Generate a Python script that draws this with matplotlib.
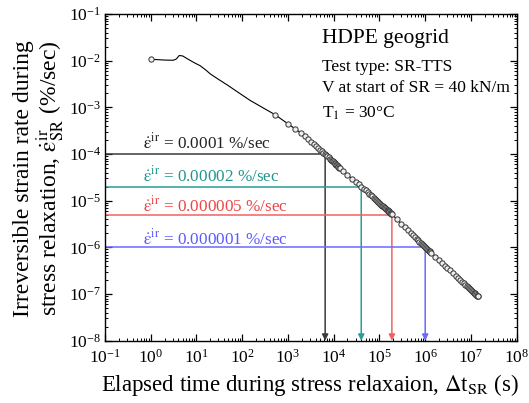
import numpy as np
import matplotlib
matplotlib.use("Agg")
import matplotlib.pyplot as plt
from matplotlib.ticker import LogLocator, NullFormatter

plt.rcParams['font.family'] = ['Liberation Serif', 'STIXGeneral', 'DejaVu Serif']
plt.rcParams['mathtext.fontset'] = 'stix'

# Early part of the record (line only, first point marked)
t_early = [1.0, 2.0, 3.1, 3.6, 4.2, 5.0, 6.6, 9.0, 12.0, 16.0, 20.0, 30.0, 50.0,
           81.0, 150.0, 250.0, 400.0]
r_early = [0.0107, 0.0103, 0.0102, 0.0108, 0.0129, 0.0126, 0.0107, 0.0090,
           0.0078, 0.0063, 0.0052, 0.0040, 0.0029, 0.0021, 0.0014, 0.00105,
           0.00081]

# Logged points during stress relaxation (s, %/sec)
t_pts = [520, 1000, 1450, 1900, 2350, 2800, 3250, 3700, 4150, 4600, 5050, 5500,
         5950, 6400, 6850, 7300, 7750, 8200, 8650, 9100, 9550, 10000, 10450,
         10900, 11350, 11800, 12250, 12700, 13150, 13600,
         16000, 20000, 25000, 30000, 35000, 40000, 45000, 50000, 55000, 60000,
         65000, 70000, 75000, 80000, 85000, 90000, 95000, 100000, 105000,
         110000, 115000, 120000, 125000, 130000, 135000, 140000, 145000,
         150000, 155000, 160000, 165000, 170000, 175000, 180000, 185000,
         240000, 300000, 360000, 420000, 480000, 540000, 600000, 650000, 700000,
         750000, 800000, 850000, 900000, 950000, 1000000, 1050000, 1100000,
         1150000, 1200000, 1250000, 1300000, 1350000,
         1650000, 2000000, 2350000, 2700000, 3050000, 3400000, 4000000, 4600000,
         5200000, 5800000, 6500000, 7000000, 7500000, 8000000, 8500000, 9000000,
         9500000, 10000000, 10500000, 11000000, 11500000, 12000000, 12500000,
         13000000, 13500000, 14000000, 14200000]
r_pts = [6.97e-4, 4.44e-4, 3.43e-4, 2.84e-4, 2.45e-4, 2.10e-4, 1.84e-4, 1.64e-4,
         1.48e-4, 1.35e-4, 1.245e-4, 1.15e-4, 1.074e-4, 1.01e-4, 9.46e-5,
         8.91e-5, 8.43e-5, 7.98e-5, 7.60e-5, 7.24e-5, 6.93e-5, 6.64e-5, 6.37e-5,
         6.12e-5, 5.89e-5, 5.68e-5, 5.48e-5, 5.30e-5, 5.13e-5, 4.97e-5,
         4.33e-5, 3.59e-5, 2.98e-5, 2.56e-5, 2.25e-5, 2.01e-5, 1.82e-5, 1.66e-5,
         1.52e-5, 1.41e-5, 1.31e-5, 1.23e-5, 1.153e-5, 1.09e-5, 1.033e-5,
         9.80e-6, 9.33e-6, 8.91e-6, 8.55e-6, 8.18e-6, 7.87e-6, 7.59e-6, 7.31e-6,
         7.06e-6, 6.83e-6, 6.61e-6, 6.41e-6, 6.22e-6, 6.04e-6, 5.87e-6, 5.71e-6,
         5.57e-6, 5.42e-6, 5.28e-6, 5.15e-6,
         4.01e-6, 3.23e-6, 2.70e-6, 2.33e-6, 2.04e-6, 1.82e-6, 1.64e-6, 1.52e-6,
         1.42e-6, 1.32e-6, 1.24e-6, 1.17e-6, 1.11e-6, 1.05e-6, 1.00e-6, 9.57e-7,
         9.18e-7, 8.80e-7, 8.47e-7, 8.15e-7, 7.87e-7, 7.60e-7,
         6.34e-7, 5.31e-7, 4.58e-7, 4.04e-7, 3.61e-7, 3.27e-7, 2.82e-7, 2.48e-7,
         2.22e-7, 2.01e-7, 1.81e-7, 1.69e-7, 1.59e-7, 1.50e-7, 1.42e-7, 1.35e-7,
         1.28e-7, 1.22e-7, 1.17e-7, 1.12e-7, 1.07e-7, 1.035e-7, 9.95e-8,
         9.62e-8, 9.29e-8, 8.99e-8, 8.87e-8]

# Reference strain-rate levels and the elapsed times at which they are reached
rate_levels = [1e-4, 2e-5, 5e-6, 1e-6]
rate_times = [6.5e3, 4.0e4, 1.87e5, 1.0e6]
rate_labels = ['0.0001', '0.00002', '0.000005', '0.000001']
line_colors = ['#3a3a3a', '#2a9d95', '#f06262', '#6a6aff']
text_colors = ['#222222', '#1f968e', '#ee4444', '#5a5aff']
label_y = [0.589, 0.487, 0.397, 0.295]

EPS_DOT = r'\dot{\mathrm{\varepsilon}}'

fig = plt.figure(figsize=(5.29, 4.03), dpi=100)
ax = fig.add_axes([0.1985, 0.1546, 0.7782, 0.8107])

ax.set_xscale('log')
ax.set_yscale('log')
ax.set_xlim(1e-1, 1e8)
ax.set_ylim(1e-8, 1e-1)

# reference level lines and arrows to the time axis
for lvl, tt, c in zip(rate_levels, rate_times, line_colors):
    ax.plot([1e-1, tt], [lvl, lvl], color=c, lw=1.1, zorder=2)
    ax.annotate('', xy=(tt, 1e-8), xytext=(tt, lvl),
                arrowprops=dict(arrowstyle='-|>', color=c, lw=1.1,
                                mutation_scale=9, shrinkA=0, shrinkB=0),
                zorder=2)

for lab, c, yy in zip(rate_labels, text_colors, label_y):
    ax.text(0.092, yy, '$' + EPS_DOT + r'^{\mathrm{ir}}$' + ' = ' + lab + ' %/sec',
            transform=ax.transAxes, color=c, fontsize=12.3, va='baseline', ha='left')

# measured curve
t_all = t_early + t_pts
r_all = r_early + r_pts
ax.plot(t_all, r_all, color='black', lw=0.8, zorder=3)
ax.plot([t_early[0]] + t_pts, [r_early[0]] + r_pts, ls='none', marker='o',
        ms=3.8, mfc='#eeeeee', mec='#333333', mew=0.7, zorder=4)

# annotations
ax.text(0.526, 0.926, 'HDPE geogrid', transform=ax.transAxes, fontsize=15.5,
        va='center', ha='left')
ax.text(0.526, 0.839, 'Test type: SR-TTS', transform=ax.transAxes, fontsize=12.5,
        va='center', ha='left')
ax.text(0.526, 0.773, 'V at start of SR = 40 kN/m', transform=ax.transAxes,
        fontsize=12.5, va='center', ha='left')
ax.text(0.526, 0.696, r'T$_1$ = 30°C', transform=ax.transAxes, fontsize=12.5,
        va='center', ha='left')

ax.xaxis.set_major_locator(LogLocator(base=10, numticks=20))
ax.yaxis.set_major_locator(LogLocator(base=10, numticks=20))
ax.xaxis.set_minor_locator(LogLocator(base=10, subs=np.arange(2, 10), numticks=200))
ax.yaxis.set_minor_locator(LogLocator(base=10, subs=np.arange(2, 10), numticks=200))
ax.xaxis.set_minor_formatter(NullFormatter())
ax.yaxis.set_minor_formatter(NullFormatter())
ax.tick_params(which='both', direction='in', top=True, right=True, labelsize=12.5)
ax.tick_params(axis='x', which='major', pad=6)
ax.tick_params(axis='y', which='major', pad=3)
ax.tick_params(which='major', length=5, width=0.9)
ax.tick_params(which='minor', length=2.5, width=0.7)
for s in ax.spines.values():
    s.set_linewidth(1.0)

ax.set_xlabel(r'Elapsed time during stress relaxaion, $\Delta$t$_{\mathrm{SR}}$ (s)',
              fontsize=16.5)
ax.xaxis.set_label_coords(0.498, -0.136)
ax.xaxis.label.set_va('center')
ax.set_ylabel('Irreversible strain rate during\n'
              'stress relaxation, $' + EPS_DOT + r'^{\mathrm{ir}}_{\mathrm{SR}}$ (%/sec)',
              fontsize=17, linespacing=1.05, multialignment='right')
ax.yaxis.set_label_coords(-0.158, 0.495)
ax.yaxis.label.set_va('center')

fig.savefig('out.png', dpi=100)
